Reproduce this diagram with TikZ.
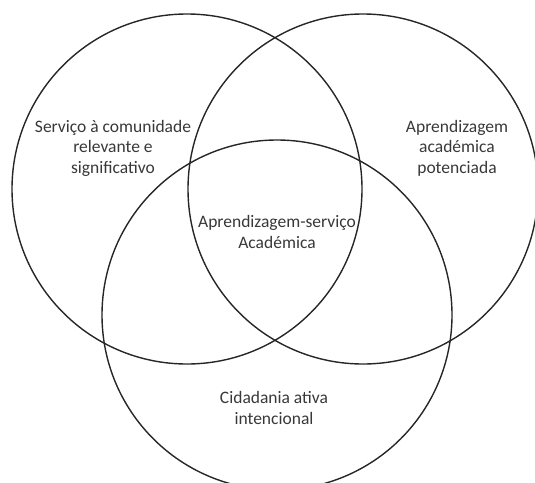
\documentclass[tikz,border=0pt]{standalone}
\usepackage{fontspec}
\setmainfont{Carlito}
\tikzset{
  ring/.style={draw=black!85,line width=1.4pt},
  lbl/.style={align=center,text=black!78,font=\fontsize{17.5}{20.5}\selectfont}
}

\begin{document}
\begin{tikzpicture}[x=1pt,y=-1pt]
        \useasboundingbox (0,0) rectangle (535,482);
        \clip (0,0) rectangle (535,482);

        \draw[ring] (187,189) circle[radius=175pt];
        \draw[ring] (363,189) circle[radius=175pt];
        \draw[ring] (277,315) circle[radius=175pt];

        \node[lbl] (servico) at (113,148) {Serviço à comunidade\\relevante e\\significativo};
        \node[lbl] (aprend) at (457,148) {Aprendizagem\\académica\\potenciada};
        \node[lbl] (centro) at (277,232) {Aprendizagem-serviço\\Académica};
        \node[lbl] (cidad) at (274,408) {Cidadania ativa\\intencional};
    \end{tikzpicture}
\end{document}
